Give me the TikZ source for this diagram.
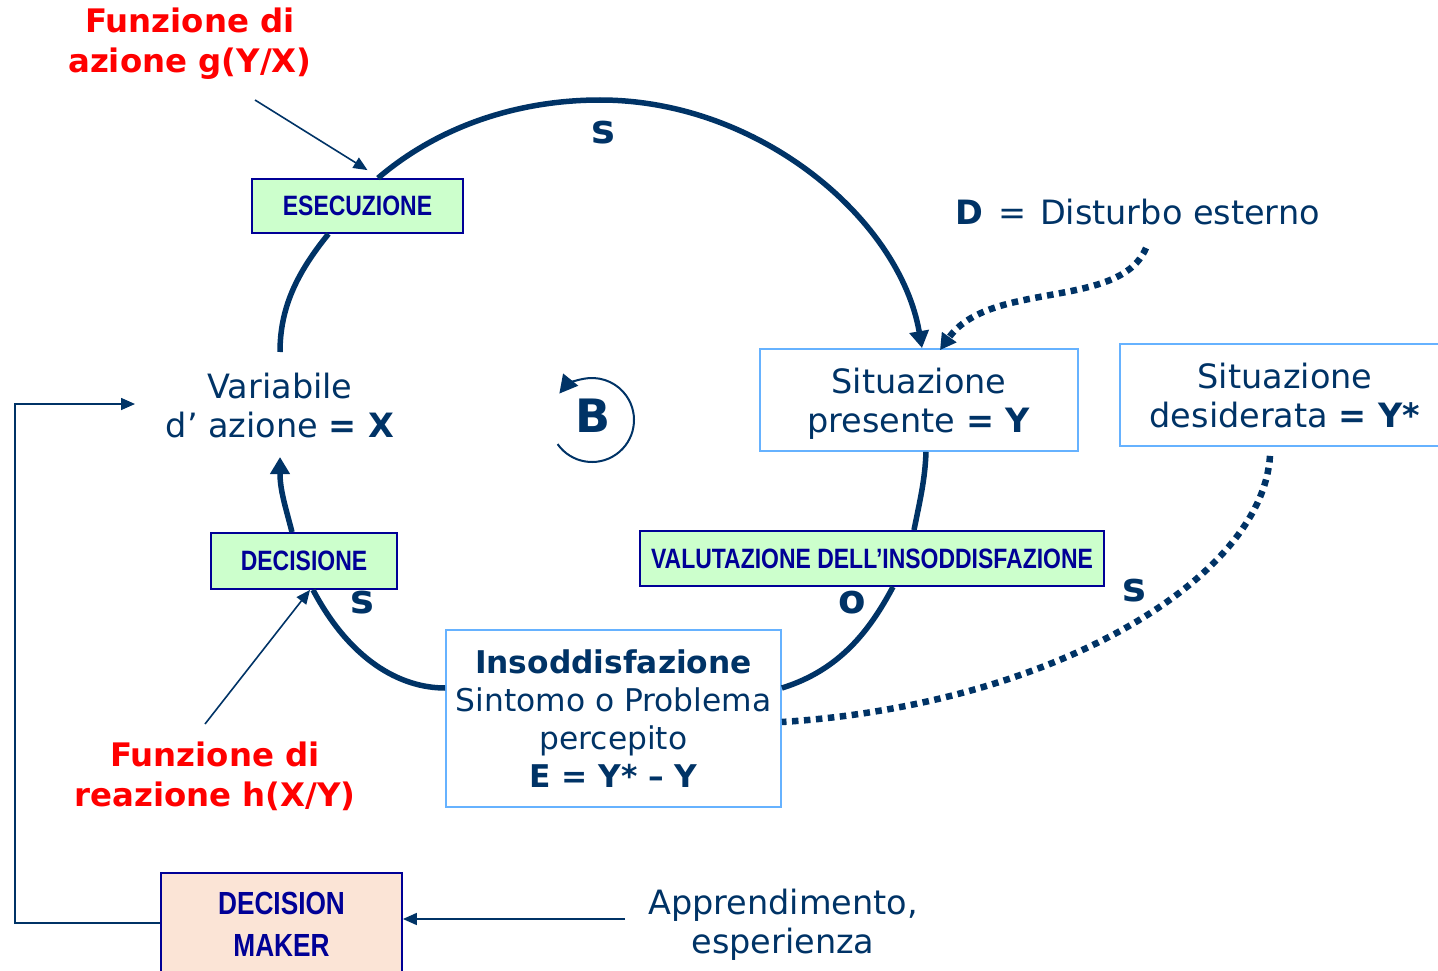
\documentclass[tikz,border=0pt]{standalone}
\usepackage{fontspec}
\setmainfont{DejaVu Sans}
\newfontfamily\narrowfont{Liberation Sans}[FakeStretch=0.82]
\usetikzlibrary{arrows.meta}

\definecolor{navy}{RGB}{0,51,102}
\definecolor{boxblue}{RGB}{0,0,150}
\definecolor{mint}{RGB}{204,255,204}
\definecolor{peach}{RGB}{251,228,214}
\definecolor{skyline}{RGB}{102,178,255}
\definecolor{alert}{RGB}{255,0,0}

\tikzset{
  mainfont/.style={font=\fontsize{33.5}{39}\selectfont},
  plain/.style={mainfont, text=navy, align=center, inner sep=0pt},
  greenbox/.style={draw=boxblue, line width=1.8pt, fill=mint, text=boxblue,
    font=\narrowfont\bfseries\fontsize{28}{30}\selectfont, inner sep=0pt},
  bluebox/.style={draw=skyline, line width=1.8pt, fill=white, text=navy,
    mainfont, align=center, inner sep=0pt},
  dmbox/.style={draw=boxblue, line width=1.8pt, fill=peach, inner sep=0pt},
  dmtext/.style={text=boxblue, font=\narrowfont\bfseries\fontsize{32}{42}\selectfont,
    align=center, inner sep=0pt},
  redtext/.style={text=alert, font=\bfseries\fontsize{32.4}{40}\selectfont,
    align=center, inner sep=0pt},
  signlabel/.style={text=navy, font=\bfseries\fontsize{40}{40}\selectfont, inner sep=0pt},
  loop/.style={draw=navy, line width=5.5pt},
  loopend/.style={loop, -{Triangle[length=17pt,width=19pt]}},
  thin/.style={draw=navy, line width=1.6pt},
  thinarrow/.style={thin, -{Triangle[length=14pt,width=12pt]}},
  dotline/.style={draw=navy, line width=6.5pt, dash pattern=on 6.5pt off 5.5pt},
}

\begin{document}
\begin{tikzpicture}[x=1pt,y=-1pt]
\useasboundingbox (0,0) rectangle (1438,971);

% boxes of the loop
\node[greenbox, minimum width=211, minimum height=54] (ese) at (357.5,206) {ESECUZIONE};
\node[greenbox, minimum width=186, minimum height=56] (dec) at (304,561) {DECISIONE};
\node[greenbox, minimum width=464, minimum height=55] (val) at (872,558.5) {VALUTAZIONE DELL’INSODDISFAZIONE};
\node[bluebox, minimum width=318, minimum height=102, text depth=0pt] (sp) at (919,400)
  {Situazione\\presente \textbf{= Y}};
\node[bluebox, minimum width=330, minimum height=102, text depth=0pt] (sd) at (1285,395)
  {Situazione\\desiderata \textbf{= Y*}};
\node[bluebox, minimum width=335, minimum height=177,
  font=\fontsize{31.3}{38}\selectfont] (ins) at (613.5,718.5)
  {\textbf{Insoddisfazione}\\Sintomo o Problema\\percepito\\\textbf{E = Y* – Y}};

% decision maker
\node[dmbox, minimum width=241, minimum height=100, anchor=north] (dm) at (281.5,872) {};
\node[dmtext] (dmlabel) at (281.5,924) {DECISION\\MAKER};

% free texts
\node[plain] (var) at (280,406) {Variabile\\d’ azione \textbf{= X}};
\node[plain, anchor=west] (dist) at (955,212) {\textbf{D}\hspace{15pt}=\hspace{14pt}Disturbo esterno};
\node[plain] (app) at (783,925) {Apprendimento,\\esperienza};
\node[redtext] (gfun) at (190,44) {Funzione di\\azione g(Y/X)};
\node[redtext] (hfun) at (215,776) {Funzione di\\reazione h(X/Y)};

% loop labels
\node[signlabel] (s1) at (603,133) {s};
\node[signlabel] (s2) at (362,603) {s};
\node[signlabel] (s3) at (1134,591) {s};
\node[signlabel] (o1) at (852,603) {o};
\node[text=navy, font=\bfseries\fontsize{46}{46}\selectfont, inner sep=0pt] (bal) at (593,416) {B};

% named free ends
\coordinate (xin) at (280,352);
\coordinate (xout) at (280,457);
\coordinate (gsrc) at (255,100);
\coordinate (hsrc) at (205,724);
\coordinate (dsrc) at (1146,248);
\coordinate (xfb) at (135,404);
\coordinate (appsrc) at (625,919);

% main causal loop
\draw[loopend] ([xshift=20.5]ese.north) .. controls (440,125) and (520,100) .. (600,100)
  .. controls (760,100) and (900,220) .. ([xshift=3]sp.north);
\draw[loop] ([xshift=-29]ese.south) .. controls (295,275) and (280,310) .. (xin);
\draw[loopend] ([xshift=-12]dec.north) .. controls (285,505) and (280,490) .. (xout);
\draw[loop] ([xshift=9]dec.south) .. controls (350,660) and (400,688) .. ([yshift=30.5]ins.west);
\draw[loop] ([yshift=30.5]ins.east) .. controls (840,670) and (870,630) .. ([xshift=21]val.south);
\draw[loop] ([xshift=42]val.north) .. controls (920,500) and (925,480) .. ([xshift=7]sp.south);

% balancing sign arrow
\begin{scope}[shift={(592,420)}, y=1pt]
  \draw[navy, line width=2pt, -{Triangle[length=18pt,width=19pt]}]
    (-145:42) arc[start angle=-145, end angle=141, radius=42];
\end{scope}

% action and reaction functions
\draw[thinarrow] (gsrc) -- ([xshift=10,yshift=8]ese.north);
\draw[thinarrow] (hsrc) -- ([xshift=6]dec.south);

% disturbance and desired state
\draw[dotline, -{Triangle[length=16pt,width=17pt]}] (dsrc) .. controls (1120,310) and (990,280) .. ([xshift=21,yshift=-2]sp.north);
\draw[dotline] ([xshift=-15,yshift=-9]sd.south) .. controls (1262,580) and (1050,705) .. ([yshift=-3.5]ins.east);

% decision maker feedback
\draw[thinarrow] (dm.west) -- ++(-145,0) |- (xfb);
\draw[thinarrow] (appsrc) -- (dm.east |- appsrc);
\end{tikzpicture}
\end{document}
